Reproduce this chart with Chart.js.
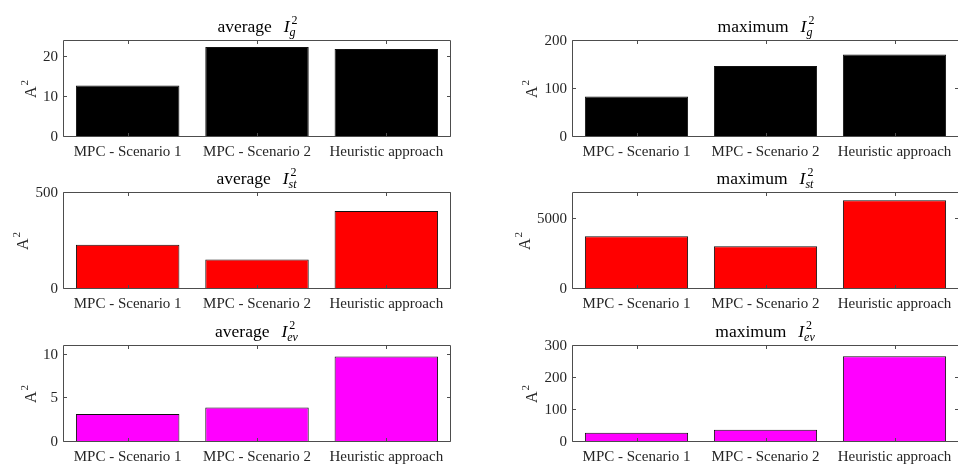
<!DOCTYPE html>
<html>
<head>
<meta charset="utf-8">
<script src="https://cdn.jsdelivr.net/npm/chart.js@4.4.0/dist/chart.umd.min.js"></script>
<style>
  html, body { margin: 0; padding: 0; background: #ffffff; overflow: hidden; width: 958px; height: 465px; }
  canvas { position: absolute; }
</style>
</head>
<body>
<script>
// Categories shared by every panel
const categories = ['MPC - Scenario 1', 'MPC - Scenario 2', 'Heuristic approach'];

// Squared currents per strategy (A^2)
const avgIg  = [12.9, 22.5, 22.0];
const maxIg  = [84.5, 148, 172];
const avgIst = [231, 154, 406];
const maxIst = [3786, 3071, 6379];
const avgIev = [3.2, 3.95, 9.8];
const maxIev = [29, 38, 268];

// Y-axis tick values and upper limits
const avgIgTicks  = [0, 10, 20];
const maxIgTicks  = [0, 100, 200];
const avgIstTicks = [0, 500];
const maxIstTicks = [0, 5000];
const avgIevTicks = [0, 5, 10];
const maxIevTicks = [0, 100, 200, 300];
const yLimits = [24, 200, 500, 6900, 11, 300];

// Grid geometry: canvas boxes and plot-area edges (page px)
const columns = [
  { x: 0,   w: 480, L: 63,  R: 451 },
  { x: 480, w: 485, L: 572, R: 959 }
];
const rows = [
  { y: 0,   h: 167, T: 41,  B: 137 },
  { y: 153, h: 166, T: 193, B: 289 },
  { y: 305, h: 167, T: 346, B: 442 }
];
const X_AXIS_H = 24;
const TICK_LEN = 3.5;
const SERIF = '"Liberation Serif", "Times New Roman", serif';

const panels = [
  { data: avgIg,  ticks: avgIgTicks,  max: yLimits[0], color: '#000000', prefix: 'average', sub: 'g',  col: 0, row: 0 },
  { data: maxIg,  ticks: maxIgTicks,  max: yLimits[1], color: '#000000', prefix: 'maximum', sub: 'g',  col: 1, row: 0 },
  { data: avgIst, ticks: avgIstTicks, max: yLimits[2], color: '#ff0000', prefix: 'average', sub: 'st', col: 0, row: 1 },
  { data: maxIst, ticks: maxIstTicks, max: yLimits[3], color: '#ff0000', prefix: 'maximum', sub: 'st', col: 1, row: 1 },
  { data: avgIev, ticks: avgIevTicks, max: yLimits[4], color: '#ff00ff', prefix: 'average', sub: 'ev', col: 0, row: 2 },
  { data: maxIev, ticks: maxIevTicks, max: yLimits[5], color: '#ff00ff', prefix: 'maximum', sub: 'ev', col: 1, row: 2 }
];

// Boxed axes with inward ticks, math-style title and rotated unit label
const framePlugin = {
  id: 'frame',
  afterDatasetsDraw(chart, args, opts) {
    const { ctx, chartArea: a } = chart;
    const xs = chart.scales.x, ys = chart.scales.y;
    ctx.save();
    const l = Math.round(a.left) + 0.5, r = Math.round(a.right) - 0.5;
    const t = Math.round(a.top) - 0.5, b = Math.round(a.bottom) - 0.5;
    ctx.strokeStyle = '#4d4d4d';
    ctx.lineWidth = 1;
    ctx.beginPath();
    ctx.rect(l, t, r - l, b - t);
    xs.ticks.forEach((tk, i) => {
      const px = Math.round(xs.getPixelForTick(i)) + 0.5;
      ctx.moveTo(px, b); ctx.lineTo(px, b - TICK_LEN);
      ctx.moveTo(px, t); ctx.lineTo(px, t + TICK_LEN);
    });
    ys.ticks.forEach(tk => {
      const py = Math.round(ys.getPixelForValue(tk.value)) - 0.5;
      ctx.moveTo(l, py); ctx.lineTo(l + TICK_LEN, py);
      ctx.moveTo(r, py); ctx.lineTo(r - TICK_LEN, py);
    });
    ctx.stroke();

    // Title: prefix + italic I with sub- and superscript
    const fMain = '17.5px ' + SERIF, fIt = 'italic 17.5px ' + SERIF;
    const fSub = 'italic 12px ' + SERIF, fSup = '12px ' + SERIF;
    const gap = 12;
    ctx.font = fMain; const w1 = ctx.measureText(opts.prefix).width;
    ctx.font = fIt;   const w2 = ctx.measureText('I').width;
    ctx.font = fSub;  const w3 = ctx.measureText(opts.sub).width;
    ctx.font = fSup;  const w4 = ctx.measureText('2').width;
    const total = w1 + gap + w2 + 1 + Math.max(w3, w4);
    let x0 = (a.left + a.right) / 2 - total / 2;
    const base = a.top - 9;
    ctx.fillStyle = '#000000';
    ctx.textAlign = 'left';
    ctx.textBaseline = 'alphabetic';
    ctx.font = fMain; ctx.fillText(opts.prefix, x0, base);
    x0 += w1 + gap;
    ctx.font = fIt; ctx.fillText('I', x0, base);
    x0 += w2 + 1;
    ctx.font = fSub; ctx.fillText(opts.sub, x0 - 1, base + 4);
    ctx.font = fSup; ctx.fillText('2', x0 + 1, base - 8.5);

    // Unit label on the y axis, placed left of the widest tick label
    ctx.font = '15px ' + SERIF;
    let maxW = 0;
    ys.ticks.forEach(tk => { maxW = Math.max(maxW, ctx.measureText(String(tk.value)).width); });
    const cx = a.left - 5 - maxW - 13;
    const cy = (a.top + a.bottom) / 2;
    ctx.translate(cx, cy);
    ctx.rotate(-Math.PI / 2);
    ctx.fillStyle = '#262626';
    ctx.textBaseline = 'alphabetic';
    ctx.textAlign = 'left';
    const fA = '16px ' + SERIF, fA2 = '11px ' + SERIF;
    ctx.font = fA; const wA = ctx.measureText('A').width;
    ctx.font = fA2; const wA2 = ctx.measureText('2').width;
    const sx = -(wA + 1 + wA2) / 2;
    ctx.font = fA; ctx.fillText('A', sx, 5.5);
    ctx.font = fA2; ctx.fillText('2', sx + wA + 1, -2.5);
    ctx.restore();
  }
};

panels.forEach(p => {
  const col = columns[p.col], row = rows[p.row];
  const cv = document.createElement('canvas');
  cv.width = col.w; cv.height = row.h;
  cv.style.left = col.x + 'px'; cv.style.top = row.y + 'px';
  cv.style.width = col.w + 'px'; cv.style.height = row.h + 'px';
  document.body.appendChild(cv);

  new Chart(cv, {
    type: 'bar',
    data: {
      labels: categories,
      datasets: [{
        data: p.data,
        backgroundColor: p.color,
        borderColor: '#111111',
        borderWidth: 1,
        borderSkipped: false,
        barPercentage: 0.8,
        categoryPercentage: 1.0
      }]
    },
    options: {
      responsive: false,
      animation: false,
      devicePixelRatio: 1,
      layout: {
        padding: {
          left: 0,
          top: row.T - row.y,
          right: (col.x + col.w) - col.R,
          bottom: (row.y + row.h) - row.B - X_AXIS_H
        }
      },
      plugins: {
        legend: { display: false },
        tooltip: { enabled: false },
        title: { display: false },
        frame: { prefix: p.prefix, sub: p.sub }
      },
      scales: {
        x: {
          type: 'category',
          offset: true,
          grid: { display: false, drawTicks: false },
          border: { display: false },
          ticks: {
            color: '#262626',
            font: { family: SERIF, size: 15 },
            padding: 6.5,
            maxRotation: 0,
            autoSkip: false
          },
          afterFit: s => { s.height = X_AXIS_H; }
        },
        y: {
          type: 'linear',
          min: 0,
          max: p.max,
          grid: { display: false, drawTicks: false },
          border: { display: false },
          afterBuildTicks: s => { s.ticks = p.ticks.map(v => ({ value: v })); },
          ticks: {
            color: '#262626',
            font: { family: SERIF, size: 15 },
            padding: 5,
            callback: v => String(v)
          },
          afterFit: s => { s.width = col.L - col.x; }
        }
      }
    },
    plugins: [framePlugin]
  });
});
</script>
</body>
</html>
